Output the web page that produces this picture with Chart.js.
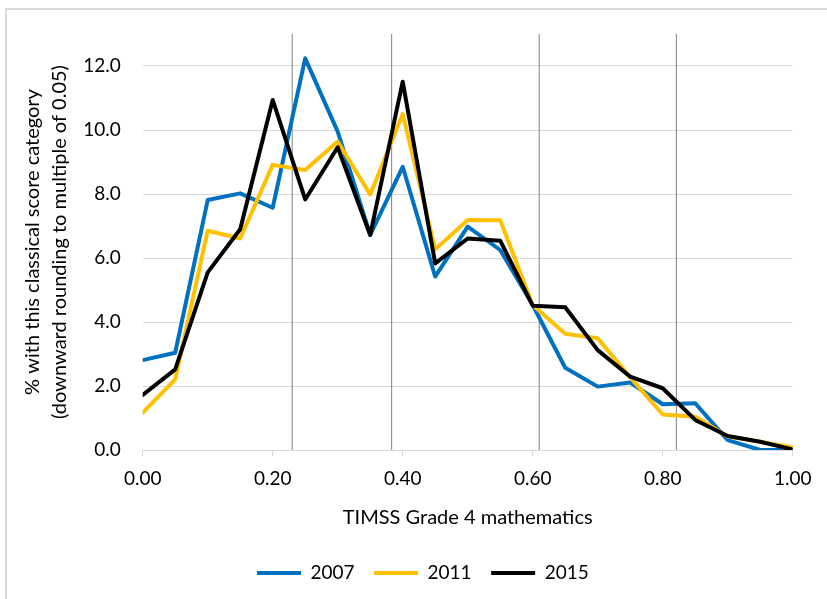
<!DOCTYPE html>
<html>
<head>
<meta charset="utf-8">
<script src="https://cdn.jsdelivr.net/npm/chart.js@4/dist/chart.umd.min.js"></script>
<style>
  html, body { margin: 0; padding: 0; background: #ffffff; overflow: hidden; width: 827px; height: 599px; }
  #frame { position: absolute; left: 5px; top: 8px; width: 900px; height: 700px; border: 2px solid #d9d9d9; box-sizing: border-box; }
  #c { position: absolute; left: 0; top: 0; }
</style>
</head>
<body>
<div id="frame"></div>
<canvas id="c" width="827" height="599"></canvas>
<script>
// Score categories (x, classical score rounded down to multiple of 0.05)
const scoreCategories = [0.00, 0.05, 0.10, 0.15, 0.20, 0.25, 0.30, 0.35, 0.40, 0.45, 0.50,
                         0.55, 0.60, 0.65, 0.70, 0.75, 0.80, 0.85, 0.90, 0.95, 1.00];
// % with this classical score category
const series2007 = [2.81, 3.04, 7.81, 8.02, 7.57, 12.24, 9.95, 6.72, 8.85, 5.42, 6.98,
                    6.25, 4.53, 2.57, 1.98, 2.11, 1.43, 1.46, 0.31, 0.00, 0.00];
const series2011 = [1.17, 2.21, 6.85, 6.61, 8.91, 8.75, 9.64, 7.98, 10.50, 6.27, 7.19,
                    7.18, 4.53, 3.63, 3.49, 2.27, 1.11, 1.04, 0.42, 0.26, 0.08];
const series2015 = [1.72, 2.52, 5.55, 6.90, 10.94, 7.83, 9.46, 6.72, 11.51, 5.83, 6.61,
                    6.54, 4.51, 4.46, 3.12, 2.29, 1.93, 0.94, 0.44, 0.26, 0.02];
const seriesNames = ['2007', '2011', '2015'];
// Vertical reference lines (x positions)
const markerX = [0.230, 0.383, 0.610, 0.821];
const markerSpan = [0, 13];
// Axis ticks
const xTicks = { min: 0, max: 1, step: 0.2 };
const yTicks = { min: 0, max: 13, step: 2 };

const FONT = 'Lato, "Open Sans", "Liberation Sans", sans-serif';
const toPoints = vals => vals.map((v, i) => ({ x: scoreCategories[i], y: v }));

const seriesStyle = [
  { color: '#0070C0', order: 3 },
  { color: '#FFC000', order: 2 },
  { color: '#000000', order: 1 }
];
const seriesData = [series2007, series2011, series2015];

const datasets = seriesData.map((vals, k) => ({
  label: seriesNames[k],
  data: toPoints(vals),
  borderColor: seriesStyle[k].color,
  backgroundColor: seriesStyle[k].color,
  borderWidth: 4,
  borderCapStyle: 'round',
  borderJoinStyle: 'round',
  pointRadius: 0,
  pointHoverRadius: 0,
  tension: 0,
  fill: false,
  order: seriesStyle[k].order
}));

markerX.forEach(mx => {
  datasets.push({
    label: 'marker',
    data: markerSpan.map(y => ({ x: mx, y: y })),
    borderColor: '#808080',
    borderWidth: 1,
    pointRadius: 0,
    pointHoverRadius: 0,
    fill: false,
    order: 10
  });
});

new Chart(document.getElementById('c'), {
  type: 'line',
  data: { datasets: datasets },
  options: {
    responsive: false,
    animation: false,
    devicePixelRatio: 1,
    layout: { padding: { left: 53, right: 34.3, top: 34, bottom: 6.5 } },
    plugins: {
      tooltip: { enabled: false },
      legend: {
        position: 'bottom',
        align: 'center',
        labels: {
          filter: item => item.text !== 'marker',
          sort: (a, b) => a.datasetIndex - b.datasetIndex,
          usePointStyle: true,
          pointStyle: 'line',
          pointStyleWidth: 44,
          padding: 19.5,
          color: '#000000',
          font: { family: FONT, size: 19 }
        }
      }
    },
    scales: {
      x: {
        type: 'linear',
        min: xTicks.min,
        max: xTicks.max,
        afterFit: s => { s.height = 94; },
        ticks: {
          stepSize: xTicks.step,
          padding: 11,
          color: '#000000',
          font: { family: FONT, size: 19 },
          callback: v => Number(v).toFixed(2)
        },
        grid: {
          drawOnChartArea: false,
          drawTicks: true,
          tickLength: 6,
          color: '#d9d9d9',
          lineWidth: 1
        },
        border: { display: true, color: '#d9d9d9', width: 1 },
        title: {
          display: true,
          text: 'TIMSS Grade 4 mathematics',
          color: '#000000',
          font: { family: FONT, size: 20, lineHeight: 1.2 },
          padding: { top: 0, bottom: 14 }
        }
      },
      y: {
        type: 'linear',
        min: yTicks.min,
        max: yTicks.max,
        afterFit: s => { s.width = 89.7; },
        ticks: {
          stepSize: yTicks.step,
          includeBounds: false,
          padding: 22,
          color: '#000000',
          font: { family: FONT, size: 19 },
          callback: v => Number(v).toFixed(1)
        },
        grid: {
          drawTicks: false,
          color: '#d9d9d9',
          lineWidth: 1
        },
        border: { display: false },
        title: {
          display: true,
          text: ['% with this classical score category', '(downward rounding to multiple of 0.05)'],
          color: '#000000',
          font: { family: FONT, size: 20, lineHeight: 1.33 },
          padding: { top: -33.5, bottom: 0 }
        }
      }
    }
  }
});
</script>
</body>
</html>
